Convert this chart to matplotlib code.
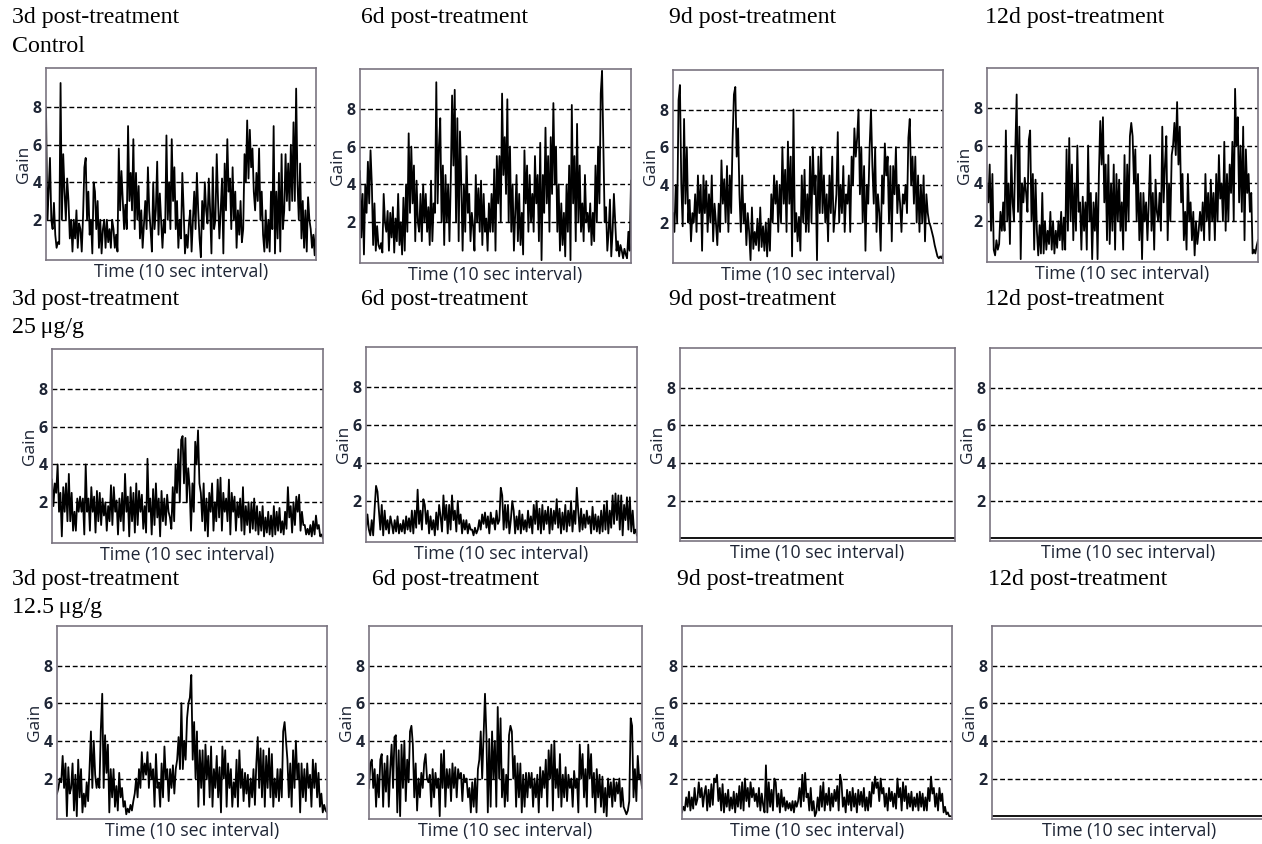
import numpy as np
import matplotlib.pyplot as plt

# ---- data (gain per 10 s interval) ----
row_titles = ["Control", "25\u2009\u03bcg/g", "12.5\u2009\u03bcg/g"]
day_titles = ["3d post-treatment", "6d post-treatment", "9d post-treatment", "12d post-treatment"]
ytick_vals = [2, 4, 6, 8]
ytick_labels = ["2", "4", "6", "8"]

ctrl_3d = [8, 2, 3.5, 5.3, 2, 1.5, 2.9, 1.2, 0.5, 0.8, 0.7, 9.3, 2, 5.5, 3.5, 2, 4.2, 3,
           1, 2, 0.3, 2, 1, 2.5, 0.5, 1.8, 1.5, 0.3, 2.2, 4.8, 5.3, 2, 3.5, 1.2, 2, 0.2,
           4, 3.5, 1.5, 3, 0.5, 2, 0.2, 1.5, 2, 0.5, 2, 0.8, 1.5, 0.5, 2, 1.5, 0.5, 1.2, 0.3,
           5.8, 2.5, 4.6, 3, 1.5, 2.8, 1.5, 7, 3, 4.5, 2.5, 6.3, 1.5, 4.5, 2, 3.8, 1,
           2.5, 0.5, 1.8, 3, 1.5, 4.8, 2.5, 1.5, 0.3, 4, 1.5, 2.5, 5.1, 1.2, 3.4, 2, 0.5, 2, 1.3,
           6.5, 2, 4, 1.5, 6.3, 3, 4.8, 1.5, 3, 0.5, 2, 1, 4.5, 2.5, 0.2, 1.2, 0.5, 1.8, 2.5, 0.3, 2,
           3.5, 1.5, 4.5, 2.5, 1, 0, 3, 1.5, 4, 2.5, 1.8, 4.2, 2.5, 0.2, 4.8, 1.5, 2, 5.5, 3, 1, 2.5, 4.2, 0.2,
           5, 2.5, 6.3, 3.5, 4.2, 1.5, 4.8, 2, 3.5, 0.5, 2.5, 1.2, 3, 0.8, 1.5, 5.5, 4, 7.3,
           4.2, 6.8, 4.8, 5.8, 3.5, 2.5, 4.5, 3, 5.8, 2, 3.5, 1.2, 0.3, 2.5, 0.5, 2, 0.3, 3.5, 1.5,
           7, 0.2, 3.5, 1, 4.5, 0.3, 5.5, 1.5, 2.5, 5.5, 3, 5, 2.5, 6, 3, 7.2, 3, 9, 4,
           2, 5, 1, 3, 0.5, 2.5, 0.3, 3.2, 2, 1.5, 0.5, 1.2, 0.1, 1.5]

ctrl_6d = [4.7, 1.2, 3.5, 0.3, 4, 2.5, 5.2, 3, 5.8, 4, 0.8, 3, 0.5, 1.8, 0.8, 0.6, 0.9, 0.4, 3.5, 2, 1.5, 2.6,
           0.5, 2.5, 1.2, 2.8, 0.4, 2.2, 1, 3.5, 0.8, 2, 0.3, 3.3, 0.5,
           4, 1.5, 6.7, 2.5, 6, 3, 5, 1, 4.2, 2, 1.5, 3.5, 1, 4, 2, 3.5, 1.5, 2.8, 0.8, 4.2, 1, 3, 2.5, 9.4,
           3, 6, 7.5, 2, 5, 0.8, 4.5, 2, 4, 1, 4.2, 8.7, 5, 9, 2, 7.5, 1, 6.8, 4, 0.5, 4, 1.5, 5.5, 2.5, 3.5, 1,
           2.5, 1.8, 0.5, 4.5, 2, 3.8, 1.5, 4.2, 0.8, 3.5, 1.5, 2.2, 0.5, 3, 1.5, 3.5, 1.5, 4.8, 0.5, 5.5, 3, 5.5, 2,
           8.8, 4.5, 6.5, 3.5, 8.5, 2, 6, 1.5, 4, 0.5, 2.5, 4.5, 1, 3.5, 0.8, 2.5, 0.3, 5.8, 3, 5, 1.5,
           4.5, 2, 3.5, 1.5, 5.5, 3, 4.5, 1, 6.2, 0, 4.5, 2.5, 7, 3, 5.5, 1.5, 6.5, 3.5, 8.3, 4, 6, 1.5, 4, 0.5,
           3, 0.8, 2.5, 0.2, 4, 1.5, 5, 0, 8.2, 3, 5.5, 1, 7.2, 2, 5, 1.5, 3, 1, 4.5, 2, 2.5,
           1.5, 3, 0.8, 2.5, 1, 5, 2, 6, 3, 8.8, 10, 6, 2, 2.8, 0.5, 1.5, 3.2, 0.2, 1.5, 3.5, 2, 0.5, 1, 0.2, 0.8,
           0.5, 0.1, 0.6, 0.3, 0.1, 1.5, 0.5, 4.2]

ctrl_9d = [2.5, 1.5, 4, 2, 8.5, 9.3, 4, 1.8, 7.5, 3, 6, 2, 3.2, 1, 2.5, 2, 3.5, 1.5, 4.5, 2.5, 4, 0.5, 4.5,
           2.5, 4.2, 1.5, 3.5, 2, 4.5, 1, 3, 2, 0.8, 3, 1.5, 5.3, 3, 4.3, 2, 5, 1.5, 4.5, 2.5, 6.3, 8.8, 9.2, 5.5,
           7, 3.5, 1.5, 4.5, 2, 3, 0.8, 2.5, 1.5, 0, 2.8, 0.6, 1.5, 0.8, 2.2, 0.5, 2.8, 0.7, 1.8, 0.5, 2, 0.2, 2.2, 0.5,
           3.5, 2, 4.5, 3, 4.2, 1.5, 4, 2, 6, 3, 4.8, 1.5, 6.3, 3, 5.5, 0.2, 8, 1.5, 2.5, 1, 2.3, 0.5, 4.5, 2,
           4.8, 1.5, 3.5, 1.5, 5.5, 2, 6, 3.5, 4.5, 0, 5.5, 2.5, 6, 2.5, 4.5, 2, 3.5, 1, 4.5, 2.5, 5.5, 1.5, 2.5, 3.5,
           6.8, 2, 4, 2.5, 5, 1.5, 3.5, 3, 4.5, 1.5, 5.5, 4, 7, 5.5, 6.5, 8, 3.5, 6, 2, 5, 0.5, 4, 3,
           6, 8, 5, 3, 6, 1.5, 3.5, 2.5, 0.5, 4.5, 3, 6.2, 4.5, 5.5, 2, 5, 1, 5, 3.5, 6, 2.5, 4, 3, 1.5,
           3.5, 3, 4, 2.5, 6.5, 7.5, 4, 5.5, 3, 5.5, 2, 4.5, 1.5, 4, 2, 4.5, 1, 3.5, 2.5, 2, 1.8, 1.5, 1.2, 0.8,
           0.5, 0.2, 0.1, 0.2, 0.1, 0.3]

ctrl_12d = [4, 3, 5, 1.5, 4.5, 0.5, 0.2, 1, 0.5, 0.8, 2.5, 1.5, 3, 1.5, 6.8, 2, 4, 0.8, 5.5, 3, 2, 5.8, 8.7, 2.5,
            7, 0, 4, 3, 4.3, 3.5, 2.5, 6.3, 6.8, 2, 4.5, 0.5, 4.2, 1.5, 0.2, 1.8, 0.3, 3.5, 0.3, 2, 0.5, 1.5, 0.8, 2.5, 0.5,
            2, 0.3, 1.5, 0.6, 2, 1, 2.5, 0.5, 2.2, 0.5, 5.8, 1.5, 6.4, 2, 5, 1, 4, 1.5, 6, 2.5, 3, 0.5, 3.3,
            1.5, 3, 0.5, 6, 2, 3.5, 0, 3, 1.5, 3.5, 0, 4.5, 7.3, 5, 7.5, 3, 5, 1, 5.5, 0.8, 4, 1.5, 5, 0.5,
            4.5, 2, 4.2, 1.5, 3, 0.5, 5.5, 1.5, 5, 2, 6.5, 7.2, 6.5, 4, 5.8, 2, 4.5, 1, 3.5, 0, 3.5, 2, 3, 1,
            3, 5.5, 1.5, 3.5, 0.5, 4.2, 2.5, 2, 3.5, 1.5, 7, 3, 5, 6.5, 1, 4, 2, 5.5, 6, 7.2, 5.5, 8.3, 5,
            7, 3, 4.5, 1, 2.5, 0.5, 4.5, 2, 3, 1, 2.5, 0.2, 2, 0.8, 1.5, 2.5, 1.5, 3, 1, 4.5, 2, 3.5, 1, 4.2,
            2, 3.5, 1, 4.5, 2, 5.5, 3.2, 4, 2, 6.2, 1.5, 4.5, 2, 5, 3.5, 6.2, 2, 9, 6, 7.5, 3, 6, 2.5, 7,
            1, 5.8, 3.5, 4.5, 2.5, 3.5, 0.3, 0.5, 0.3, 0.7, 1]

d25_3d = [3.2, 1.8, 3, 2.5, 4, 1.5, 2.5, 0.2, 2.8, 1.5, 3, 1, 3.5, 1, 2.5, 0.5, 1.5, 0.5, 2.2, 1.5, 2.3, 1.5, 2.2, 0.3, 4, 1.5,
          2.2, 0.5, 2.8, 1.5, 2.3, 0.4, 2.6, 1, 2.5, 0.8, 2.2, 1.3, 2, 0.5, 1.8, 1, 2.9, 0.8, 2.8, 1.5, 2.1, 0.3, 2.2, 1,
          2.5, 0.5, 3.5, 1.5, 2.3, 0.2, 2.8, 1, 2.5, 0.4, 3, 0.8, 2.6, 1.5, 2.4, 0.6, 1.8, 0.4, 4.3, 1.5, 2.2, 0.3, 2.7, 0.8,
          3, 1.2, 2.2, 0.2, 2.6, 1, 2.2, 0.8, 2.4, 1.5, 1.2, 0.6, 2.8, 1, 4, 2.5, 4.8, 2, 5.3, 5.5, 3, 5.4, 2, 3.8,
          2.8, 0.5, 3, 1.5, 5.2, 4, 5.8, 3, 2.5, 1, 3, 0.5, 2.2, 0.2, 2.5, 1.5, 3, 0.5, 2, 1, 3.2, 1.2, 3.3, 0.5,
          2.5, 1.5, 2.2, 1, 3.2, 0.3, 2.5, 1.5, 2.3, 0.5, 2, 1.2, 2.2, 0.5, 2.8, 0.3, 1.8, 0.8, 2, 0.4, 2, 0.6, 2.2, 0.5,
          1.8, 0.3, 1.5, 0.5, 1.8, 0.2, 1.2, 0.4, 1.5, 0.3, 1.3, 0.2, 1.8, 0.3, 1.5, 0.5, 1.7, 0.4, 1, 0.3, 1.5, 0.6, 2.8, 1.2,
          1.8, 0.4, 2, 0.8, 2.3, 1.5, 2.4, 0.5, 1.5, 0.8, 0.8, 0.3, 0.6, 0.3, 0.8, 0.2, 1, 0.3, 1.3, 0.6, 0.8, 0.2, 0.3, 0.1]

d25_6d = [0.5, 1.3, 0.5, 0.2, 1, 0.2, 1.6, 2.8, 2.5, 1.5, 0.5, 1.8, 0.2, 1.5, 0.5, 1, 0.3, 1.2, 0.8, 0.3, 1, 0.4,
          1.2, 0.3, 0.8, 0.4, 1, 0.3, 1.2, 0.5, 1.1, 0.4, 1.5, 0.3, 1.5, 0.6, 2.6, 0.8, 1.5, 0.5, 2.1, 1.8, 0.8, 1.5, 0.3, 1.2,
          0.5, 1, 0.2, 1.4, 0.5, 1.8, 1.2, 0.4, 2.3, 1, 1.8, 0.3, 1.8, 0.5, 2.3, 1, 1.5, 0.4, 2, 0.8, 1.3, 0.3, 1, 0.5,
          1, 0.3, 0.8, 0.5, 0.5, 0.2, 0.6, 0.3, 0.5, 1, 0.5, 1.3, 0.8, 1.4, 0.6, 1.2, 0.3, 1.4, 0.8, 1.1, 0.5, 1.5, 0.8, 1,
          2.7, 2.3, 0.5, 1.8, 0.6, 1.8, 0.3, 1, 2, 1.5, 0.3, 1.2, 0.5, 1.5, 0.3, 1.3, 0.5, 1, 0.4, 1.5, 0.6, 1.2, 0.3, 1.8,
          0.8, 2, 0.5, 1.6, 0.3, 1.8, 0.5, 1.5, 0.8, 1.7, 0.3, 1.6, 0.5, 1.5, 0.8, 2.1, 0.6, 1.6, 0.3, 1.4, 0.5, 1.8, 0.4, 1.5,
          0.7, 2, 0.4, 1.5, 0.8, 2.7, 1.5, 0.4, 1.6, 0.5, 1.3, 0.6, 1.5, 0.8, 1.2, 0.3, 1.7, 0.5, 1.3, 0.4, 1.2, 0.3, 1.5, 0.4,
          1.8, 0.5, 2, 0.3, 1.5, 0.6, 2.3, 0.8, 2.4, 1, 2.3, 0.5, 2.3, 0.2, 1.8, 1, 2.2, 0.5, 2.2, 0.4, 1.5, 0.3, 0.5, 0.2]

d25_9d = [0, 0]
d25_12d = [0, 0]

d125_3d = [1.2, 1.5, 2, 1.8, 3.2, 1.5, 2.8, 0, 2.6, 1.2, 1.5, 2.8, 0.3, 2.2, 0, 3, 1, 2.5, 0.2, 1.2, 0.5, 1.8, 0.8, 2.5,
           4.5, 1.5, 4, 2.2, 1.5, 2, 1.5, 4.6, 6.5, 1.5, 4.3, 2.3, 3.8, 0.2, 2.5, 1, 2.5, 0.5, 1.6, 0.3, 2.3, 1, 1.5, 0.5,
           0.8, 0.1, 0.4, 0.2, 0.6, 0.3, 0.8, 1.2, 2, 1, 2.5, 1.5, 3.4, 2, 2.8, 2.2, 3.4, 1.5, 2.8, 2, 2.5, 0.5, 3.3, 1.5,
           1.8, 0.5, 2.8, 1, 3.7, 2, 2.5, 0.8, 2.5, 1.5, 2.7, 1.2, 2.5, 3, 4.2, 2.5, 6, 2.5, 4, 3, 5.2, 6, 6.3, 7.5,
           3, 5, 2, 4.5, 0.5, 3.5, 1.5, 3.5, 0.6, 3.8, 2, 3.2, 1, 3.7, 0.5, 2.5, 1.5, 3.2, 1, 2.6, 0.2, 3.7, 2, 3.5,
           0.5, 2.8, 1.5, 2.5, 0.5, 1.8, 1, 3, 0.5, 3.5, 1.5, 2.5, 0.8, 2.3, 1.2, 2.2, 0.5, 2, 1, 2.5, 0.6, 2.8, 4.2, 1.5,
           3.6, 1, 3.5, 0.5, 3.2, 1.5, 3.6, 1, 3.3, 0.5, 2, 1, 2.5, 0.8, 2.5, 1, 4.5, 5, 4, 3, 1, 2.8, 0.5, 3.5,
           1.5, 4, 2, 2.8, 0.2, 2.8, 1, 2.5, 0.8, 2.8, 1.5, 2.2, 0.5, 3, 1.5, 2.8, 1, 2.3, 0.5, 1.2, 0.2, 0.6, 0.3, 0.2]

d125_6d = [1.5, 2.8, 3, 1.5, 2.5, 0.5, 2.2, 1, 3, 3.3, 0.5, 2.8, 1.3, 3.2, 0.5, 2.5, 3.8, 1.5, 4.2, 4.3, 0.2, 3.5, 0,
           3.8, 1.5, 4, 0.8, 3, 1.8, 4.5, 4.8, 3.8, 1, 2.8, 0.3, 2, 1, 2.3, 1.5, 2.8, 3.3, 2, 1.8, 2.2, 0.5, 2.5, 1,
           2.3, 1.5, 2, 0, 3.3, 1.5, 3.5, 0.5, 2.5, 1.5, 2.5, 0.8, 2.8, 1.5, 2.6, 1, 2.5, 2, 2.3, 0.8, 2.2, 1.8, 2, 1,
           1.5, 0.2, 1.8, 0.5, 2, 0.2, 2.5, 3, 4.5, 2, 4.3, 6.5, 4.3, 0.2, 4.1, 0.5, 4.5, 2, 4, 0.5, 5.8, 2, 5.2, 1,
           2.5, 0.5, 2.2, 0.8, 4.3, 4.8, 4.5, 2, 3.2, 0.5, 2.8, 1, 2.8, 0.2, 2.2, 0.5, 2.3, 1, 2.3, 1.5, 2.3, 0.5, 2, 1,
           2.2, 0.2, 2.6, 1, 2.4, 1.5, 3, 0.5, 3.5, 2, 3.8, 0.3, 4, 1.5, 2.5, 1, 3.3, 0.5, 2.2, 1, 2.6, 0.8, 2.2, 1.5,
           2, 0.5, 2.4, 1.5, 2, 0.2, 3.8, 2, 3.3, 1, 2.5, 0.5, 3.8, 2, 3.3, 1, 2.3, 0.2, 2.5, 1, 2.2, 0.5, 2.1, 0.2,
           1.5, 0, 2, 1, 1.8, 0.5, 2, 0.8, 1.8, 1.2, 2, 0.5, 1.5, 0.5, 0.3, 0.1, 0.3, 0.8, 5.2, 4.8, 1, 2.5, 0.8, 3.2, 2, 2.2, 1.5]

d125_9d = [0.2, 0.5, 0.3, 1, 0.5, 1.3, 0.3, 1, 0.4, 1.5, 0.6, 0.9, 1.8, 1, 1.5, 0.5, 1.2, 1.6, 0.3, 1.4, 0.5, 1.7, 0.6, 2,
           1.8, 2.2, 0.8, 1.5, 0.3, 1.7, 0.2, 1.2, 0.5, 1.4, 0.3, 1, 0.4, 1.3, 0.2, 1.2, 0.5, 1.6, 0.4, 1.8, 0.3, 2, 0.8, 1.5,
           0.5, 1.8, 1, 1.5, 0.8, 1.2, 0.5, 1.5, 0.3, 1.2, 0.6, 0.2, 2.7, 0.2, 1.8, 0.5, 1.4, 0.3, 2, 1.8, 0.5, 1.2, 0.2, 1.4,
           0.5, 1, 0.3, 0.8, 0.4, 0.7, 0.3, 0.8, 0.2, 0.8, 0.5, 0.8, 1.5, 0.5, 2.2, 0.8, 2.3, 1, 1.2, 0.3, 1.5, 0.3, 0.8, 0,
           0.2, 1, 0.3, 1.6, 0.5, 1.8, 0.3, 1.2, 0.6, 1.5, 0.3, 1.2, 0.5, 1.4, 0.8, 1.6, 0.3, 2.2, 1.8, 0.5, 1, 0.2, 1.4, 0.6,
           1.3, 0.3, 1.5, 0.5, 1.2, 0.2, 1.4, 0.6, 1.3, 0.5, 1.5, 0.3, 1, 0.3, 1.3, 0.5, 1.8, 1.2, 2.1, 1.5, 1.8, 0.8, 2, 1.2,
           1.5, 0.5, 1.2, 0.3, 1.5, 0.8, 1.3, 0.5, 1.2, 0.4, 2, 1, 1.5, 0.3, 1.8, 0.8, 1.6, 0.4, 1.2, 0.5, 1.3, 0.3, 1, 0.5,
           1.2, 0.3, 1.3, 0.5, 1.2, 0.3, 1, 0.3, 1.5, 0.8, 2.1, 1.2, 1.5, 0.5, 1.2, 0.3, 1.5, 0.8, 1.2, 0.2, 0.5, 0.1, 0.2, 0, 0, 0]

d125_12d = [0, 0]

series = [[ctrl_3d, ctrl_6d, ctrl_9d, ctrl_12d],
          [d25_3d, d25_6d, d25_9d, d25_12d],
          [d125_3d, d125_6d, d125_9d, d125_12d]]

# ---- layout (pixel boxes: left, top, right, bottom) ----
W, H = 1262, 844
boxes = [[(46, 68, 316, 260), (360, 69, 631, 263), (673, 70, 943, 263), (987, 68, 1258, 262)],
         [(52, 349, 323, 543), (366, 347, 637, 542), (680, 348, 955, 541), (990, 348, 1266, 541)],
         [(57, 626, 327, 819), (369, 626, 642, 819), (682, 626, 952, 819), (992, 626, 1266, 819)]]
title_x = [[12, 361, 669, 985], [12, 361, 669, 985], [12, 372, 677, 988]]
title_y = [18, 299, 580]
sub_y = [46, 328, 608]

txt_col = "#1e2535"
serif = ["Liberation Serif", "DejaVu Serif"]
sans = ["Open Sans", "DejaVu Sans"]

fig = plt.figure(figsize=(W / 100, H / 100), dpi=100)

for r in range(3):
    for c in range(4):
        l, t, rr, b = boxes[r][c]
        ax = fig.add_axes([l / W, 1 - b / H, (rr - l) / W, (b - t) / H])
        vals = series[r][c]
        x = np.arange(len(vals))
        ax.plot(x, vals, color="black", lw=1.3)
        ax.set_xlim(0, len(vals) - 1)
        ax.set_ylim(-0.15, 10.1)
        for v in ytick_vals:
            ax.axhline(v, color="black", lw=1.0, ls=(0, (3.5, 2)), zorder=0)
        ax.set_xticks([])
        ax.set_yticks(ytick_vals)
        ax.set_yticklabels(ytick_labels, fontfamily=sans, fontsize=11.5, fontweight="bold", color=txt_col)
        ax.tick_params(axis="y", length=0, pad=3)
        ax.set_ylabel("Gain", fontfamily=sans, fontsize=12.5, color=txt_col, labelpad=0.5)
        ax.set_xlabel("Time (10 sec interval)", fontfamily=sans, fontsize=12.8, color=txt_col, labelpad=2)
        for sp in ax.spines.values():
            sp.set_color("#7a7480")
            sp.set_linewidth(1.2)

        fig.text(title_x[r][c] / W, 1 - title_y[r] / H, day_titles[c], fontfamily=serif,
                 fontsize=17.2, color="black", ha="left", va="center")
    fig.text(12 / W, 1 - sub_y[r] / H, row_titles[r], fontfamily=serif,
             fontsize=17.2, color="black", ha="left", va="center")

fig.savefig("out.png", dpi=100)
